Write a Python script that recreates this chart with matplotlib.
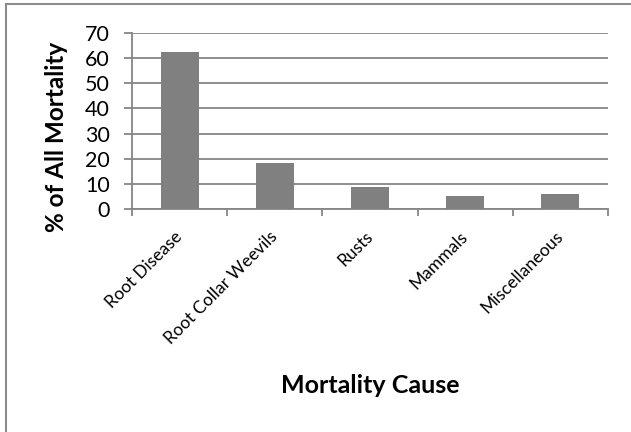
import numpy as np
import matplotlib.pyplot as plt
from matplotlib.patches import Rectangle

causes = ['Root Disease', 'Root Collar Weevils', 'Rusts', 'Mammals', 'Miscellaneous']
pct = [62.3, 18.2, 8.6, 5.2, 5.8]
yticks = [0, 10, 20, 30, 40, 50, 60, 70]

plt.rcParams['font.family'] = ['Lato', 'DejaVu Sans']
grey = '#868686'

fig = plt.figure(figsize=(6.31, 4.32), dpi=100)
ax = fig.add_axes([0.2092, 0.5162, 0.9635 - 0.2092, 0.9236 - 0.5162])

x = np.arange(len(causes))
ax.bar(x, pct, width=0.4, color='#808080', zorder=3)

ax.set_xlim(-0.5, len(causes) - 0.5)
ax.set_ylim(0, 70)
ax.set_yticks(yticks)
ax.yaxis.grid(True, color=grey, lw=1.3, zorder=0)

# ticks between categories on the x axis
ax.set_xticks(np.arange(len(causes) + 1) - 0.5)
ax.set_xticklabels([])
ax.set_xticks(x, minor=True)
ax.set_xticklabels(causes, minor=True, rotation=45, ha='right', va='center',
                   rotation_mode='anchor', fontsize=12.5)
ax.tick_params(axis='x', which='minor', length=0, pad=18)
ax.tick_params(axis='x', which='major', length=5, width=1.3, color=grey)
ax.tick_params(axis='y', length=6, width=1.3, color=grey, labelsize=15.5, pad=10)

for s in ['top', 'right']:
    ax.spines[s].set_visible(False)
for s in ['left', 'bottom']:
    ax.spines[s].set_color(grey)
    ax.spines[s].set_linewidth(1.3)

fig.text(57 / 631, 1 - 137 / 432, '% of All Mortality', fontsize=17.5, fontweight='bold',
         rotation=90, ha='center', va='center')
fig.text(370 / 631, 1 - 393 / 432, 'Mortality Cause', fontsize=18, fontweight='bold',
         ha='center', va='baseline')

fig.patches.append(Rectangle((6 / 631, -0.1), 1.1, 1.1 - 4 / 432,
                             transform=fig.transFigure, fill=False,
                             edgecolor='#8c8c8c', lw=1.5))

fig.savefig('out.png', dpi=100)
